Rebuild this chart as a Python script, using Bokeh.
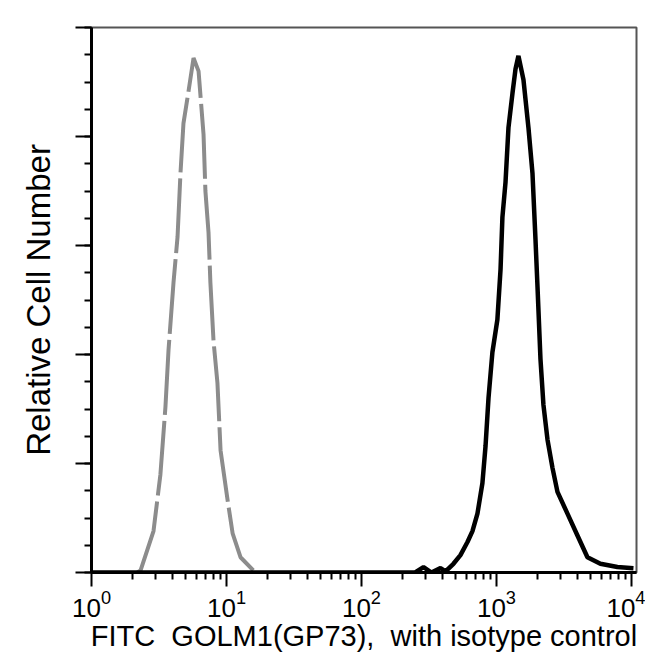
from bokeh.plotting import figure
from bokeh.models import Range1d, FixedTicker, CustomLabelingPolicy
from bokeh.embed import file_html
from bokeh.resources import INLINE

# Isotype control (gray, dashed)
iso_x = [2.19, 2.31, 2.88, 3.24, 3.53, 3.72, 4.05, 4.34, 4.56, 4.80, 5.24, 5.70,
         6.21, 6.76, 6.98, 7.36, 7.60, 8.02, 8.57, 9.04, 10.2, 11.1, 12.7, 15.8]
iso_y = [0, 1, 19, 45, 76, 102, 133, 154, 183, 206, 221, 236,
         230, 201, 175, 156, 133, 106, 87, 56, 33, 18, 7, 1]

# GOLM1 (GP73) stained (black, solid)
golm_x = [1, 250, 288, 330, 385, 420, 480, 541, 610, 664, 723, 787, 830, 873, 933,
          1016, 1072, 1107, 1167, 1227, 1315, 1384, 1455, 1585, 1726, 1849, 1945,
          2014, 2118, 2228, 2388, 2600, 2831, 3357, 3981, 4721, 5888, 7870, 10350]
golm_y = [0, 0, 2.5, 0, 2, 0.5, 4, 8, 14, 19, 27, 41, 58, 80, 101,
          116, 139, 163, 179, 204, 220, 231, 237, 226, 204, 183, 153,
          131, 98, 77, 61, 48, 37, 27, 17, 7, 4, 2.5, 2]

x_major = [1, 10, 100, 1000, 10000]
x_minor_mult = [2, 3, 4, 5, 6, 7, 8, 9]
y_major = [0, 50, 100, 150, 200, 250]
y_minor_step = 12.5

FONT = "Liberation Sans"

p = figure(width=645, height=660, x_axis_type="log",
           x_range=Range1d(1, 10900), y_range=Range1d(0, 250),
           output_backend="svg", toolbar_location=None,
           min_border_left=91, min_border_right=9,
           min_border_top=27, min_border_bottom=88)
p.grid.visible = False
p.background_fill_color = "white"
p.border_fill_color = "white"
p.outline_line_color = "#555555"
p.outline_line_width = 2

p.line(iso_x, iso_y, line_color="#8c8c8c", line_width=4, line_dash="75 6")
p.line(golm_x, golm_y, line_color="black", line_width=4.5)

x_minor = [m * d for d in x_major[:-1] for m in x_minor_mult]
p.xaxis.ticker = FixedTicker(ticks=x_major, minor_ticks=x_minor)
y_minor = [i * y_minor_step for i in range(int(250 / y_minor_step) + 1)]
p.yaxis.ticker = FixedTicker(ticks=y_major, minor_ticks=y_minor)

for ax in (p.xaxis[0], p.yaxis[0]):
    ax.axis_line_color = "black"
    ax.axis_line_width = 3
    ax.major_tick_in = 0
    ax.minor_tick_in = 0
    ax.major_tick_line_color = "black"
    ax.minor_tick_line_color = "black"
    ax.major_tick_line_width = 2
    ax.minor_tick_line_width = 2
    ax.axis_label_text_font = FONT
    ax.axis_label_text_font_style = "normal"
    ax.axis_label_text_color = "black"
    ax.major_label_text_font = FONT
    ax.major_label_text_color = "black"

xa = p.xaxis[0]
xa.major_tick_out = 14
xa.minor_tick_out = 7
xa.major_label_text_font_size = "26px"
xa.major_label_standoff = 3
xa.axis_label = "FITC\u00a0 GOLM1(GP73),\u00a0 with isotype control"
xa.axis_label_text_font_size = "29px"
xa.axis_label_standoff = 0

ya = p.yaxis[0]
ya.major_tick_out = 16
ya.minor_tick_out = 7
ya.major_label_text_font_size = "4px"
ya.major_label_standoff = 0
ya.major_label_policy = CustomLabelingPolicy(
    code="for (let i = 0; i < indices.size; i++) { indices.unset(i) }; return indices")
ya.axis_label = "Relative Cell Number"
ya.axis_label_text_font_size = "33px"
ya.axis_label_standoff = 9

open("out.html", "w").write(file_html(p, INLINE))
